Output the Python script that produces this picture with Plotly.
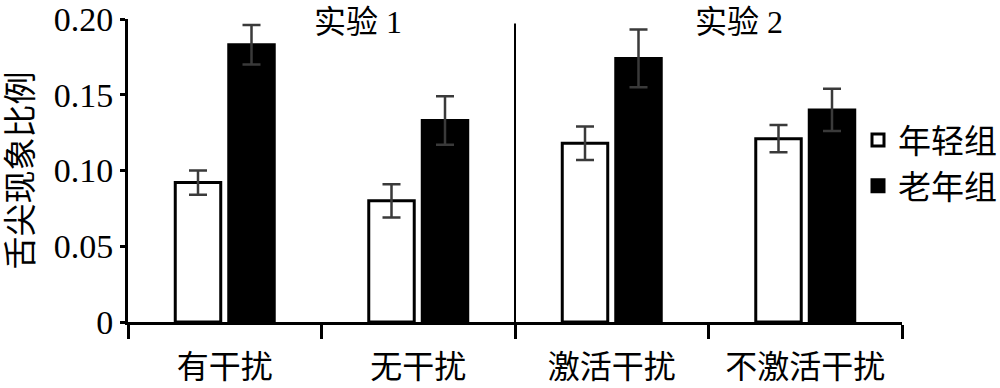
import plotly.graph_objects as go

categories = ["有干扰", "无干扰", "激活干扰", "不激活干扰"]
young = [0.092, 0.080, 0.118, 0.121]
young_err = [0.008, 0.011, 0.011, 0.009]
old = [0.183, 0.133, 0.174, 0.140]
old_err = [0.013, 0.016, 0.019, 0.014]
series_names = ["年轻组", "老年组"]
y_ticks = [0, 0.05, 0.10, 0.15, 0.20]
y_ticktext = ["0", "0.05", "0.10", "0.15", "0.20"]
group_labels = ["实验 1", "实验 2"]

FONT = "Liberation Serif, Noto Sans CJK SC, serif"

fig = go.Figure()
fig.add_trace(go.Bar(
    x=categories, y=young, name=series_names[0],
    marker=dict(color="white", line=dict(color="black", width=3)),
    error_y=dict(type="data", array=young_err, color="#3a3a3a", thickness=2.5, width=9),
))
fig.add_trace(go.Bar(
    x=categories, y=old, name=series_names[1],
    marker=dict(color="black", line=dict(color="black", width=3)),
    error_y=dict(type="data", array=old_err, color="#3a3a3a", thickness=2.5, width=9),
))

# separator between experiments
fig.add_shape(type="line", xref="x", yref="y", x0=1.5, x1=1.5, y0=0, y1=0.197,
              line=dict(color="black", width=2))

fig.add_annotation(x=0.69, y=0.198, xref="x", yref="y", text=group_labels[0],
                   showarrow=False, font=dict(size=32, color="black", family=FONT))
fig.add_annotation(x=2.66, y=0.198, xref="x", yref="y", text=group_labels[1],
                   showarrow=False, font=dict(size=32, color="black", family=FONT))

fig.update_layout(
    template="none",
    width=1000, height=388,
    margin=dict(l=128, r=98, t=19, b=66, autoexpand=False),
    paper_bgcolor="white", plot_bgcolor="white",
    barmode="group", bargap=0.447, bargroupgap=0.15,
    font=dict(family=FONT, size=32, color="black"),
    showlegend=True,
    legend=dict(xref="container", yref="container", x=0.858, y=0.58,
                xanchor="left", yanchor="middle",
                font=dict(size=33, family=FONT), itemwidth=30,
                bgcolor="rgba(0,0,0,0)", borderwidth=0, tracegroupgap=0),
)
fig.update_xaxes(
    automargin=False,
    showline=True, linecolor="black", linewidth=3,
    ticks="outside", tickson="boundaries", ticklen=14, tickwidth=3, tickcolor="black",
    tickfont=dict(size=32, family=FONT), ticklabelstandoff=15,
    showgrid=False, zeroline=False,
)
fig.update_yaxes(
    automargin=False,
    range=[0, 0.2], showline=True, linecolor="black", linewidth=3,
    ticks="outside", ticklen=5, tickwidth=3, tickcolor="black",
    tickvals=y_ticks, ticktext=y_ticktext,
    tickfont=dict(size=34, family=FONT), showgrid=False, zeroline=False,
    title=dict(text="舌尖现象比例", font=dict(size=33, family=FONT), standoff=12),
)

fig.write_html("out.html")
